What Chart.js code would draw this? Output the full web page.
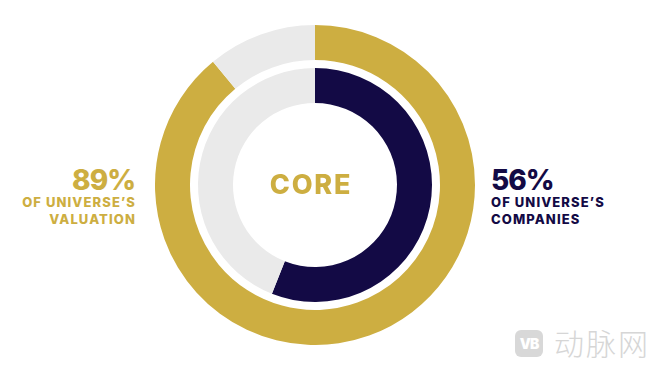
<!DOCTYPE html>
<html>
<head>
<meta charset="utf-8">
<script src="https://cdn.jsdelivr.net/npm/chart.js@4"></script>
<style>
  html, body { margin:0; padding:0; background:#fff; }
  #wrap { position:relative; width:658px; height:374px; overflow:hidden; font-family: "Inter", "Open Sans", sans-serif; }
  #chartBox { position:absolute; left:155px; top:25px; width:320px; height:320px; }
  .lbl { position:absolute; font-weight:800; white-space:nowrap; }
  .big { font-size:28px; line-height:28px; letter-spacing:-1px; }
  .small { font-size:13px; line-height:17px; letter-spacing:1.1px; }
  #left { right:522px; top:166px; text-align:right; color:#CDAE41; }
  #left .big { margin-right:1px; }
  #right { left:491px; top:166px; text-align:left; color:#130A45; }
  #core { position:absolute; left:230px; width:160px; top:170px; text-align:center; color:#CDAE41; font-weight:800; font-size:27px; line-height:30px; letter-spacing:1.8px; padding-left:2px; box-sizing:border-box; }
  #logo { position:absolute; left:515px; top:330px; width:28px; height:27px; border-radius:6px; background:#D8D8D8; color:#fff; font:900 14px/27px "Inter", sans-serif; text-align:center; letter-spacing:-1px; }
  #wm { position:absolute; left:554px; top:326px; color:#D6D6D6; font: 300 30px/32px "Noto Sans CJK SC", sans-serif; letter-spacing:2px; }
</style>
</head>
<body>
<div id="wrap">
  <div id="chartBox"><canvas id="c"></canvas></div>
  <div id="core">CORE</div>
  <div class="lbl" id="left"><div class="big">89%</div><div class="small">OF UNIVERSE’S</div><div class="small">VALUATION</div></div>
  <div class="lbl" id="right"><div class="big">56%</div><div class="small">OF UNIVERSE’S</div><div class="small">COMPANIES</div></div>
  <div id="logo">VB</div>
  <div id="wm">动脉网</div>
</div>
<script>
const ringNames = ["Valuation", "Companies"];
const valuationShare = [89, 11];
const companiesShare = [56, 44];
const spacerShare = [100];

const gold = "#CDAE41", navy = "#130A45", grey = "#EAEAEA";

new Chart(document.getElementById("c"), {
  type: "doughnut",
  data: {
    labels: ["Core", "Other"],
    datasets: [
      { label: ringNames[0], data: valuationShare, backgroundColor: [gold, grey], borderWidth: 0, weight: 35 },
      { label: "spacer", data: spacerShare, backgroundColor: ["rgba(0,0,0,0)"], borderWidth: 0, weight: 8 },
      { label: ringNames[1], data: companiesShare, backgroundColor: [navy, grey], borderWidth: 0, weight: 35 }
    ]
  },
  options: {
    responsive: true,
    maintainAspectRatio: false,
    animation: false,
    cutout: 82,
    layout: { padding: 0 },
    plugins: { legend: { display: false }, tooltip: { enabled: false } }
  }
});
</script>
</body>
</html>
